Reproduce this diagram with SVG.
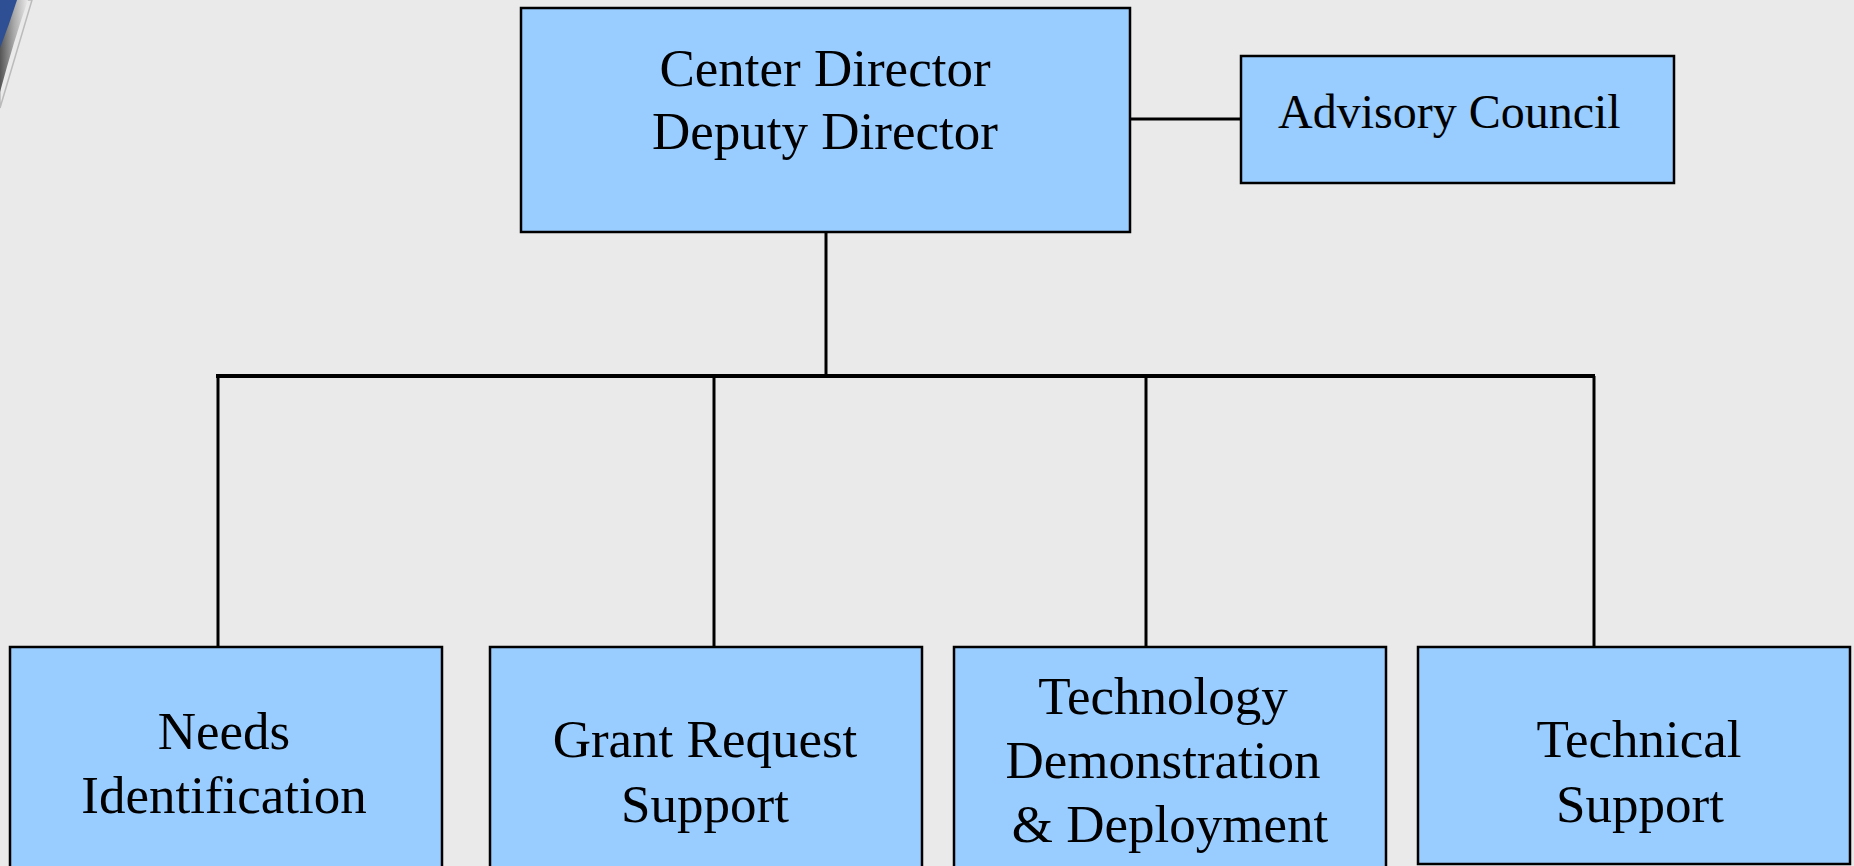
<svg xmlns="http://www.w3.org/2000/svg" width="1854" height="866" viewBox="0 0 1854 866">
<defs>
<style>
.box{fill:#99ccff;stroke:#000;stroke-width:2.5}
.t{font-family:"Liberation Serif","Times New Roman",serif;font-size:53px;fill:#000;text-anchor:middle}
.conn line{stroke:#000;stroke-width:3}
.conn line.bus{stroke-width:4}
</style>
<linearGradient id="sh" x1="0" y1="0" x2="1" y2="0">
<stop offset="0" stop-color="#555"/>
<stop offset="0.5" stop-color="#aaa"/>
<stop offset="1" stop-color="#eaeaea"/>
</linearGradient>
</defs>
<rect width="1854" height="866" fill="#eaeaea"/>
<g id="corner">
<path d="M0,0 L32,0 Q20,40 0,108 Z" fill="none" stroke="#bbb" stroke-width="1.5"/>
<path d="M0,0 L28,0 Q14,40 0,92 Z" fill="url(#sh)"/>
<path d="M0,0 L17,0 Q9,25 0,48 Z" fill="#2e4f93"/>
</g>
<g id="connectors" class="conn">
<line x1="1130" y1="119" x2="1241" y2="119"/>
<line x1="826" y1="232" x2="826" y2="376"/>
<line class="bus" x1="216" y1="376" x2="1595" y2="376"/>
<line x1="218" y1="376" x2="218" y2="647"/>
<line x1="714" y1="376" x2="714" y2="647"/>
<line x1="1146" y1="376" x2="1146" y2="647"/>
<line x1="1594" y1="376" x2="1594" y2="647"/>
</g>
<g id="director">
<rect class="box" x="521" y="8" width="609" height="224"/>
<text class="t" x="825" y="86">Center Director</text>
<text class="t" x="825" y="149">Deputy Director</text>
</g>
<g id="advisory">
<rect class="box" x="1241" y="56" width="433" height="127"/>
<text class="t" x="1278" y="128" style="text-anchor:start;font-size:48px">Advisory Council</text>
</g>
<g id="needs">
<rect class="box" x="10" y="647" width="432" height="230"/>
<text class="t" x="224" y="749">Needs</text>
<text class="t" x="224" y="813">Identification</text>
</g>
<g id="grant">
<rect class="box" x="490" y="647" width="432" height="230"/>
<text class="t" x="705" y="757">Grant Request</text>
<text class="t" x="705" y="822">Support</text>
</g>
<g id="techdemo">
<rect class="box" x="954" y="647" width="432" height="230"/>
<text class="t" x="1163" y="714">Technology</text>
<text class="t" x="1163" y="778">Demonstration</text>
<text class="t" x="1170" y="842">&amp; Deployment</text>
</g>
<g id="techsupport">
<rect class="box" x="1418" y="647" width="432" height="217"/>
<text class="t" x="1639" y="757">Technical</text>
<text class="t" x="1640" y="822">Support</text>
</g>
</svg>
